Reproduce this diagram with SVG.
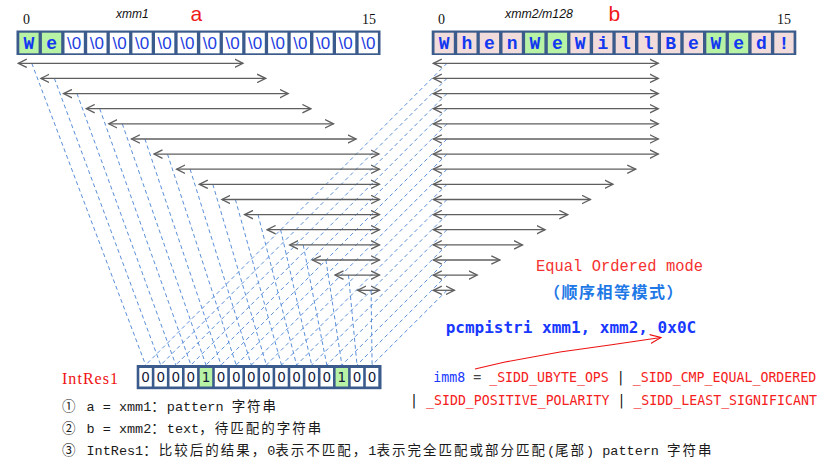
<svg xmlns="http://www.w3.org/2000/svg" width="828" height="469" viewBox="0 0 828 469">
<style>
.reg{fill:#3b5b8c}
.cw{fill:#ffffff}
.cg{fill:#b8f2a4}
.cp{fill:#f2dcdb}
.nul{font-family:"Liberation Sans",sans-serif;font-size:17px;fill:#2340e0;text-anchor:middle}
.chb{font-family:"Liberation Mono",monospace;font-weight:bold;font-size:18px;fill:#1238f0;text-anchor:middle}
.bit{font-family:"DejaVu Sans",sans-serif;font-size:13.5px;fill:#10183a;text-anchor:middle}
.idx{font-family:"Liberation Serif",serif;font-size:14px;fill:#111}
.reg-name{font-family:"Liberation Sans",sans-serif;font-style:italic;font-size:12px;fill:#111}
.big{font-family:"Liberation Sans",sans-serif;font-size:21px;fill:#f01818}
.arr{stroke:#5f5f5f;stroke-width:1.3;fill:none;marker-start:url(#chev);marker-end:url(#chev)}
.dash{stroke:#5a8fd8;stroke-width:1;stroke-dasharray:4 3;fill:none}
.note{font-family:"Liberation Mono","Noto Sans CJK SC",monospace;font-size:13.5px;fill:#1a1a1a}
.cjk{font-family:"Noto Sans CJK SC",sans-serif;letter-spacing:2px}
.code{font-family:"DejaVu Sans Mono",monospace;font-size:13.25px}
.red{fill:#f52020}
.blu{fill:#1838ff}
</style>
<defs>
<marker id="chev" viewBox="0 0 10 10" markerWidth="10" markerHeight="10" refX="8.5" refY="5" orient="auto-start-reverse" markerUnits="userSpaceOnUse">
<path d="M0,0.8 L8.5,5 L0,9.2" fill="none" stroke="#5f5f5f" stroke-width="1.3"/>
</marker>
<marker id="redhead" viewBox="0 0 12 10" markerWidth="12" markerHeight="10" refX="11" refY="5" orient="auto" markerUnits="userSpaceOnUse">
<path d="M0,0.5 L11,5 L0,9.5" fill="none" stroke="#ee1111" stroke-width="1.1"/>
</marker>
</defs>

<g id="labels-a">
<text class="idx" x="23" y="24">0</text>
<text class="reg-name" x="116" y="18">xmm1</text>
<text class="big" x="190.5" y="21">a</text>
<text class="idx" x="362" y="24">15</text>
</g>
<g id="labels-b">
<text class="idx" x="438" y="24">0</text>
<text class="reg-name" x="505" y="17.5" textLength="68" lengthAdjust="spacingAndGlyphs">xmm2/m128</text>
<text class="big" x="608.5" y="21">b</text>
<text class="idx" x="777" y="24">15</text>
</g>

<g id="reg-a">
<rect class="reg" x="16.5" y="30.5" width="364" height="24.5"/>
<rect class="cg" x="19.3" y="32.7" width="19.3" height="20.6"/>
<rect class="cg" x="41.9" y="32.7" width="19.3" height="20.6"/>
<rect class="cw" x="64.5" y="32.7" width="19.3" height="20.6"/>
<rect class="cw" x="87.2" y="32.7" width="19.3" height="20.6"/>
<rect class="cw" x="109.8" y="32.7" width="19.3" height="20.6"/>
<rect class="cw" x="132.4" y="32.7" width="19.3" height="20.6"/>
<rect class="cw" x="155.0" y="32.7" width="19.3" height="20.6"/>
<rect class="cw" x="177.6" y="32.7" width="19.3" height="20.6"/>
<rect class="cw" x="200.3" y="32.7" width="19.3" height="20.6"/>
<rect class="cw" x="222.9" y="32.7" width="19.3" height="20.6"/>
<rect class="cw" x="245.5" y="32.7" width="19.3" height="20.6"/>
<rect class="cw" x="268.1" y="32.7" width="19.3" height="20.6"/>
<rect class="cw" x="290.7" y="32.7" width="19.3" height="20.6"/>
<rect class="cw" x="313.4" y="32.7" width="19.3" height="20.6"/>
<rect class="cw" x="336.0" y="32.7" width="19.3" height="20.6"/>
<rect class="cw" x="358.6" y="32.7" width="19.3" height="20.6"/>
<text class="chb" x="28.9" y="49">W</text>
<text class="chb" x="51.6" y="49">e</text>
<text class="nul" x="74.2" y="49">\0</text>
<text class="nul" x="96.8" y="49">\0</text>
<text class="nul" x="119.5" y="49">\0</text>
<text class="nul" x="142.1" y="49">\0</text>
<text class="nul" x="164.7" y="49">\0</text>
<text class="nul" x="187.3" y="49">\0</text>
<text class="nul" x="209.9" y="49">\0</text>
<text class="nul" x="232.6" y="49">\0</text>
<text class="nul" x="255.2" y="49">\0</text>
<text class="nul" x="277.8" y="49">\0</text>
<text class="nul" x="300.4" y="49">\0</text>
<text class="nul" x="323.0" y="49">\0</text>
<text class="nul" x="345.7" y="49">\0</text>
<text class="nul" x="368.3" y="49">\0</text>
</g>

<g id="reg-b">
<rect class="reg" x="431.7" y="30.5" width="364.6" height="24.5"/>
<rect class="cp" x="434.5" y="32.7" width="19.3" height="20.6"/>
<rect class="cp" x="457.2" y="32.7" width="19.3" height="20.6"/>
<rect class="cp" x="479.8" y="32.7" width="19.3" height="20.6"/>
<rect class="cp" x="502.5" y="32.7" width="19.3" height="20.6"/>
<rect class="cg" x="525.1" y="32.7" width="19.3" height="20.6"/>
<rect class="cg" x="547.8" y="32.7" width="19.3" height="20.6"/>
<rect class="cp" x="570.4" y="32.7" width="19.3" height="20.6"/>
<rect class="cp" x="593.1" y="32.7" width="19.3" height="20.6"/>
<rect class="cp" x="615.7" y="32.7" width="19.3" height="20.6"/>
<rect class="cp" x="638.4" y="32.7" width="19.3" height="20.6"/>
<rect class="cp" x="661.0" y="32.7" width="19.3" height="20.6"/>
<rect class="cp" x="683.7" y="32.7" width="19.3" height="20.6"/>
<rect class="cg" x="706.3" y="32.7" width="19.3" height="20.6"/>
<rect class="cg" x="728.9" y="32.7" width="19.3" height="20.6"/>
<rect class="cp" x="751.6" y="32.7" width="19.3" height="20.6"/>
<rect class="cp" x="774.3" y="32.7" width="19.3" height="20.6"/>
<text class="chb" x="444.2" y="49">W</text>
<text class="chb" x="466.9" y="49">h</text>
<text class="chb" x="489.5" y="49">e</text>
<text class="chb" x="512.2" y="49">n</text>
<text class="chb" x="534.8" y="49">W</text>
<text class="chb" x="557.5" y="49">e</text>
<text class="chb" x="580.1" y="49">W</text>
<text class="chb" x="602.8" y="49">i</text>
<text class="chb" x="625.4" y="49">l</text>
<text class="chb" x="648.1" y="49">l</text>
<text class="chb" x="670.7" y="49">B</text>
<text class="chb" x="693.4" y="49">e</text>
<text class="chb" x="716.0" y="49">W</text>
<text class="chb" x="738.6" y="49">e</text>
<text class="chb" x="761.3" y="49">d</text>
<text class="chb" x="784.0" y="49">!</text>
</g>

<g id="connectors">
<g id="dashed-left">
<line class="dash" x1="31.8" y1="63.3" x2="145.6" y2="365"/>
<line class="dash" x1="54.4" y1="78.4" x2="160.7" y2="365"/>
<line class="dash" x1="77.0" y1="93.6" x2="175.8" y2="365"/>
<line class="dash" x1="99.7" y1="108.7" x2="190.9" y2="365"/>
<line class="dash" x1="122.3" y1="123.8" x2="206.0" y2="365"/>
<line class="dash" x1="144.9" y1="139.0" x2="221.1" y2="365"/>
<line class="dash" x1="167.5" y1="154.1" x2="236.2" y2="365"/>
<line class="dash" x1="190.1" y1="169.2" x2="251.3" y2="365"/>
<line class="dash" x1="212.8" y1="184.3" x2="266.4" y2="365"/>
<line class="dash" x1="235.4" y1="199.5" x2="281.5" y2="365"/>
<line class="dash" x1="258.0" y1="214.6" x2="296.6" y2="365"/>
<line class="dash" x1="280.6" y1="229.7" x2="311.7" y2="365"/>
<line class="dash" x1="303.2" y1="244.9" x2="326.8" y2="365"/>
<line class="dash" x1="325.9" y1="260.0" x2="341.9" y2="365"/>
<line class="dash" x1="348.5" y1="275.1" x2="357.0" y2="365"/>
<line class="dash" x1="371.1" y1="290.3" x2="372.1" y2="365"/>
</g>
<g id="dashed-right">
<line class="dash" x1="447" y1="63.3" x2="145.6" y2="365"/>
<line class="dash" x1="447" y1="78.4" x2="160.7" y2="365"/>
<line class="dash" x1="447" y1="93.6" x2="175.8" y2="365"/>
<line class="dash" x1="447" y1="108.7" x2="190.9" y2="365"/>
<line class="dash" x1="447" y1="123.8" x2="206.0" y2="365"/>
<line class="dash" x1="447" y1="139.0" x2="221.1" y2="365"/>
<line class="dash" x1="447" y1="154.1" x2="236.2" y2="365"/>
<line class="dash" x1="447" y1="169.2" x2="251.3" y2="365"/>
<line class="dash" x1="447" y1="184.3" x2="266.4" y2="365"/>
<line class="dash" x1="447" y1="199.5" x2="281.5" y2="365"/>
<line class="dash" x1="447" y1="214.6" x2="296.6" y2="365"/>
<line class="dash" x1="447" y1="229.7" x2="311.7" y2="365"/>
<line class="dash" x1="447" y1="244.9" x2="326.8" y2="365"/>
<line class="dash" x1="447" y1="260.0" x2="341.9" y2="365"/>
<line class="dash" x1="447" y1="275.1" x2="357.0" y2="365"/>
<line class="dash" x1="447" y1="290.3" x2="372.1" y2="365"/>
</g>
<g id="arrows-left">
<line class="arr" x1="18.3" y1="63.3" x2="243.0" y2="63.3"/>
<line class="arr" x1="40.9" y1="78.4" x2="265.6" y2="78.4"/>
<line class="arr" x1="63.5" y1="93.6" x2="288.2" y2="93.6"/>
<line class="arr" x1="86.2" y1="108.7" x2="310.9" y2="108.7"/>
<line class="arr" x1="108.8" y1="123.8" x2="333.5" y2="123.8"/>
<line class="arr" x1="131.4" y1="139.0" x2="356.1" y2="139.0"/>
<line class="arr" x1="154.0" y1="154.1" x2="379.0" y2="154.1"/>
<line class="arr" x1="176.6" y1="169.2" x2="379.5" y2="169.2"/>
<line class="arr" x1="199.3" y1="184.3" x2="379.5" y2="184.3"/>
<line class="arr" x1="221.9" y1="199.5" x2="379.5" y2="199.5"/>
<line class="arr" x1="244.5" y1="214.6" x2="379.5" y2="214.6"/>
<line class="arr" x1="267.1" y1="229.7" x2="379.5" y2="229.7"/>
<line class="arr" x1="289.7" y1="244.9" x2="379.5" y2="244.9"/>
<line class="arr" x1="312.4" y1="260.0" x2="379.5" y2="260.0"/>
<line class="arr" x1="335.0" y1="275.1" x2="379.5" y2="275.1"/>
<line class="arr" x1="357.6" y1="290.3" x2="379.5" y2="290.3"/>
</g>
<g id="arrows-right">
<line class="arr" x1="433.3" y1="63.3" x2="658.3" y2="63.3"/>
<line class="arr" x1="433.3" y1="78.4" x2="658.3" y2="78.4"/>
<line class="arr" x1="433.3" y1="93.6" x2="658.3" y2="93.6"/>
<line class="arr" x1="433.3" y1="108.7" x2="658.3" y2="108.7"/>
<line class="arr" x1="433.3" y1="123.8" x2="658.3" y2="123.8"/>
<line class="arr" x1="433.3" y1="139.0" x2="658.3" y2="139.0"/>
<line class="arr" x1="433.3" y1="154.1" x2="658.3" y2="154.1"/>
<line class="arr" x1="433.3" y1="169.2" x2="635.7" y2="169.2"/>
<line class="arr" x1="433.3" y1="184.3" x2="613.0" y2="184.3"/>
<line class="arr" x1="433.3" y1="199.5" x2="590.4" y2="199.5"/>
<line class="arr" x1="433.3" y1="214.6" x2="567.8" y2="214.6"/>
<line class="arr" x1="433.3" y1="229.7" x2="545.1" y2="229.7"/>
<line class="arr" x1="433.3" y1="244.9" x2="522.5" y2="244.9"/>
<line class="arr" x1="433.3" y1="260.0" x2="499.8" y2="260.0"/>
<line class="arr" x1="433.3" y1="275.1" x2="477.2" y2="275.1"/>
<line class="arr" x1="433.3" y1="290.3" x2="454.4" y2="290.3"/>
</g>
<path id="imm8-arrow" d="M475,369 L505,362 L560,352 L610,345 L661,337.5" fill="none" stroke="#ee1111" stroke-width="1.1" marker-end="url(#redhead)"/>
</g>

<g id="intres1">
<text x="62" y="384" font-family="Liberation Serif,serif" font-size="16" fill="#ee1111" textLength="56" lengthAdjust="spacing">IntRes1</text>
<rect class="reg" x="136.7" y="365" width="244.8" height="24.2"/>
<rect class="cw" x="139.3" y="368" width="12.5" height="18.5"/>
<rect class="cw" x="154.4" y="368" width="12.5" height="18.5"/>
<rect class="cw" x="169.5" y="368" width="12.5" height="18.5"/>
<rect class="cw" x="184.6" y="368" width="12.5" height="18.5"/>
<rect class="cg" x="199.7" y="368" width="12.5" height="18.5"/>
<rect class="cw" x="214.8" y="368" width="12.5" height="18.5"/>
<rect class="cw" x="229.9" y="368" width="12.5" height="18.5"/>
<rect class="cw" x="245.0" y="368" width="12.5" height="18.5"/>
<rect class="cw" x="260.1" y="368" width="12.5" height="18.5"/>
<rect class="cw" x="275.2" y="368" width="12.5" height="18.5"/>
<rect class="cw" x="290.3" y="368" width="12.5" height="18.5"/>
<rect class="cw" x="305.4" y="368" width="12.5" height="18.5"/>
<rect class="cw" x="320.5" y="368" width="12.5" height="18.5"/>
<rect class="cg" x="335.6" y="368" width="12.5" height="18.5"/>
<rect class="cw" x="350.7" y="368" width="12.5" height="18.5"/>
<rect class="cw" x="365.8" y="368" width="12.5" height="18.5"/>
<text class="bit" x="145.6" y="382">0</text>
<text class="bit" x="160.7" y="382">0</text>
<text class="bit" x="175.8" y="382">0</text>
<text class="bit" x="190.9" y="382">0</text>
<text class="bit" x="206.0" y="382">1</text>
<text class="bit" x="221.1" y="382">0</text>
<text class="bit" x="236.2" y="382">0</text>
<text class="bit" x="251.3" y="382">0</text>
<text class="bit" x="266.4" y="382">0</text>
<text class="bit" x="281.5" y="382">0</text>
<text class="bit" x="296.6" y="382">0</text>
<text class="bit" x="311.7" y="382">0</text>
<text class="bit" x="326.8" y="382">0</text>
<text class="bit" x="341.9" y="382">1</text>
<text class="bit" x="357.0" y="382">0</text>
<text class="bit" x="372.1" y="382">0</text>
</g>

<g id="mode">
<text x="536" y="271" font-family="Liberation Mono,monospace" font-size="16.5" fill="#f53030" textLength="167" lengthAdjust="spacingAndGlyphs">Equal Ordered mode</text>
<text x="544" y="298" font-family="Noto Sans CJK SC,sans-serif" font-weight="bold" font-size="16" letter-spacing="1.5" fill="#1e78e6">（顺序相等模式）</text>
<text x="445.7" y="333" font-family="DejaVu Sans Mono,monospace" font-weight="bold" font-size="16" fill="#1838ff">pcmpistri xmm1, xmm2, 0x0C</text>
</g>

<g id="imm8">
<text class="code" x="433.3" y="382"><tspan class="blu">imm8</tspan><tspan fill="#444"> = </tspan><tspan class="red">_SIDD_UBYTE_OPS</tspan><tspan fill="#111"> | </tspan><tspan class="red">_SIDD_CMP_EQUAL_ORDERED</tspan></text>
<text class="code" x="410" y="405"><tspan fill="#111">| </tspan><tspan class="red">_SIDD_POSITIVE_POLARITY</tspan><tspan fill="#111"> | </tspan><tspan class="red">_SIDD_LEAST_SIGNIFICANT</tspan></text>
</g>

<g id="notes">
<text class="note" x="62" y="411">①</text>
<text class="note" x="86.5" y="411">a = xmm1<tspan class="cjk">：</tspan>pattern <tspan class="cjk">字符串</tspan></text>
<text class="note" x="62" y="433">②</text>
<text class="note" x="86.5" y="433">b = xmm2<tspan class="cjk">：</tspan>text<tspan class="cjk">，待匹配的字符串</tspan></text>
<text class="note" x="62" y="455">③</text>
<text class="note" x="86.5" y="455">IntRes1<tspan class="cjk">：比较后的结果，</tspan>0<tspan class="cjk">表示不匹配，</tspan>1<tspan class="cjk">表示完全匹配或部分匹配</tspan>(<tspan class="cjk">尾部</tspan>) pattern <tspan class="cjk">字符串</tspan></text>
</g>
</svg>
